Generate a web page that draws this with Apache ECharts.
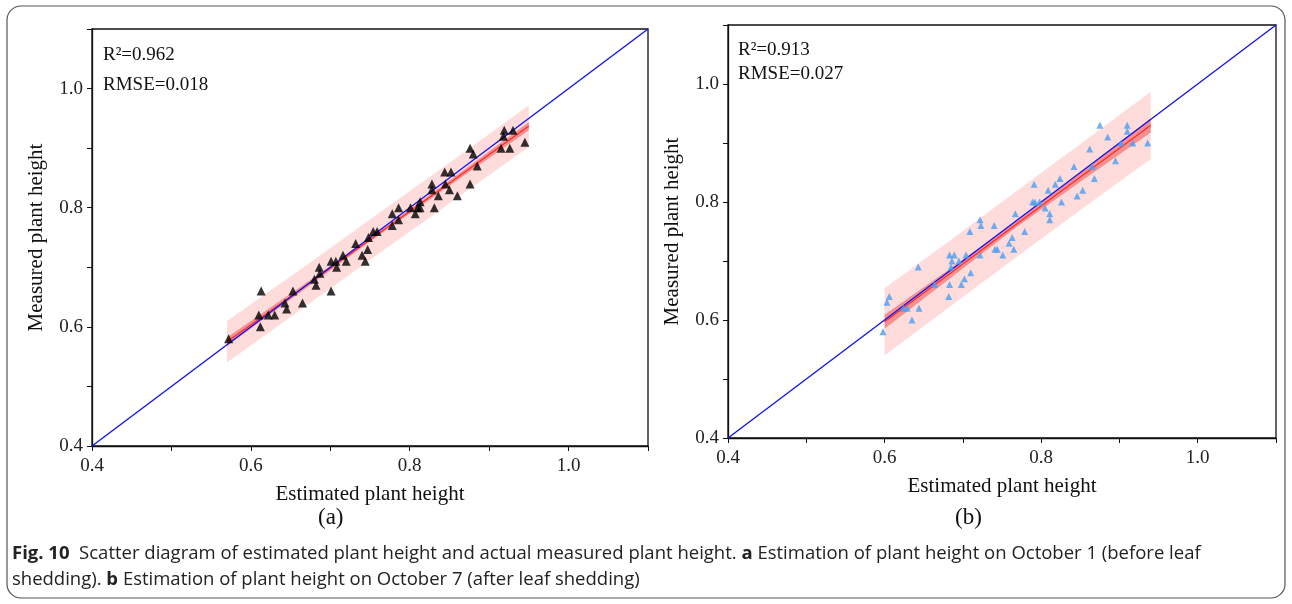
<!DOCTYPE html>
<html>
<head>
<meta charset="utf-8">
<title>Scatter diagram of estimated and measured plant height</title>
<script src="https://cdn.jsdelivr.net/npm/echarts@6/dist/echarts.min.js"></script>
<style>
  html, body { margin: 0; padding: 0; background: #fff; }
  #chart { width: 1292px; height: 604px; }
</style>
</head>
<body>
<div id="chart"></div>
<script>
// (a) October 1, before leaf shedding: [estimated, measured]
var pointsA = [
  [0.572, 0.58], [0.613, 0.66], [0.612, 0.60], [0.610, 0.62], [0.622, 0.62],
  [0.630, 0.62], [0.645, 0.63], [0.643, 0.64], [0.653, 0.66], [0.665, 0.64],
  [0.680, 0.68], [0.682, 0.67], [0.687, 0.69], [0.686, 0.70], [0.701, 0.66],
  [0.701, 0.71], [0.707, 0.71], [0.708, 0.70], [0.720, 0.71], [0.716, 0.72],
  [0.732, 0.74], [0.740, 0.72], [0.744, 0.71], [0.747, 0.73], [0.748, 0.75],
  [0.754, 0.76], [0.759, 0.76], [0.778, 0.79], [0.778, 0.77], [0.786, 0.80],
  [0.786, 0.78], [0.801, 0.80], [0.807, 0.79], [0.810, 0.80], [0.813, 0.80],
  [0.813, 0.81], [0.831, 0.80], [0.836, 0.82], [0.828, 0.83], [0.828, 0.84],
  [0.845, 0.84], [0.850, 0.83], [0.860, 0.82], [0.844, 0.86], [0.852, 0.86],
  [0.876, 0.84], [0.885, 0.87], [0.876, 0.90], [0.880, 0.89], [0.915, 0.90],
  [0.926, 0.90], [0.918, 0.92], [0.919, 0.93], [0.930, 0.93], [0.945, 0.91]
];
// (b) October 7, after leaf shedding
var pointsB = [
  [0.875, 0.93], [0.910, 0.93], [0.910, 0.92], [0.885, 0.91], [0.902, 0.90],
  [0.917, 0.90], [0.936, 0.90], [0.862, 0.89], [0.895, 0.87], [0.842, 0.86],
  [0.865, 0.86], [0.868, 0.84], [0.824, 0.84], [0.791, 0.83], [0.818, 0.83],
  [0.809, 0.82], [0.853, 0.82], [0.846, 0.81], [0.789, 0.80], [0.792, 0.80],
  [0.798, 0.80], [0.826, 0.80], [0.805, 0.79], [0.811, 0.78], [0.811, 0.77],
  [0.767, 0.78], [0.722, 0.77], [0.723, 0.76], [0.740, 0.76], [0.709, 0.75],
  [0.779, 0.75], [0.763, 0.74], [0.759, 0.73], [0.741, 0.72], [0.744, 0.72],
  [0.765, 0.72], [0.751, 0.71], [0.683, 0.71], [0.689, 0.71], [0.704, 0.71],
  [0.722, 0.71], [0.643, 0.69], [0.686, 0.70], [0.695, 0.70], [0.685, 0.69],
  [0.710, 0.68], [0.702, 0.67], [0.683, 0.66], [0.698, 0.66], [0.664, 0.66],
  [0.682, 0.64], [0.606, 0.64], [0.603, 0.63], [0.624, 0.62], [0.629, 0.62],
  [0.644, 0.62], [0.635, 0.60], [0.598, 0.58]
];

// fitted line and bands
var fitXA = [0.57, 0.665, 0.76, 0.855, 0.95];
var fitYA = [0.575, 0.665, 0.756, 0.846, 0.937];
var confA = [0.007, 0.0045, 0.003, 0.0045, 0.007];
var predA = [0.035, 0.034, 0.034, 0.034, 0.035];

var fitXB = [0.6, 0.685, 0.77, 0.855, 0.94];
var fitYB = [0.597, 0.680, 0.764, 0.847, 0.930];
var confB = [0.012, 0.008, 0.005, 0.008, 0.012];
var predB = [0.057, 0.056, 0.056, 0.056, 0.057];

var oneToOne = [0.4, 1.1];
var statsA = ['R²=0.962', 'RMSE=0.018'];
var statsB = ['R²=0.913', 'RMSE=0.027'];

var serif = '"Liberation Serif", "DejaVu Serif", serif';
var sans = '"Open Sans", "Noto Sans", sans-serif';

function tickLabel(v) {
  var k = Math.round(v * 10);
  if (k % 2 === 0 && k <= 10) return (k / 10).toFixed(1);
  return '';
}

function makeX(idx) {
  return {
    type: 'value', gridIndex: idx, min: 0.4, max: 1.1, interval: 0.1,
    name: 'Estimated plant height', nameLocation: 'middle', nameGap: 38,
    nameTextStyle: { fontFamily: serif, fontSize: 21, color: '#111' },
    axisLine: { show: true, lineStyle: { color: '#111', width: 1.3 } },
    axisTick: { show: true, inside: false, length: 5, lineStyle: { color: '#111' } },
    axisLabel: { fontFamily: serif, fontSize: 19, color: '#222', margin: 11, formatter: tickLabel },
    splitLine: { show: false }
  };
}

function makeY(idx) {
  return {
    type: 'value', gridIndex: idx, min: 0.4, max: 1.1, interval: 0.1,
    name: 'Measured plant height', nameLocation: 'middle', nameGap: 45,
    nameTextStyle: { fontFamily: serif, fontSize: 21, color: '#111' },
    axisLine: { show: true, lineStyle: { color: '#111', width: 1.3 } },
    axisTick: { show: true, inside: false, length: 5, lineStyle: { color: '#111' } },
    axisLabel: { fontFamily: serif, fontSize: 19, color: '#222', margin: 9, formatter: tickLabel },
    splitLine: { show: false }
  };
}

// polygon band drawn through the axis scale
function band(idx, xs, ys, half, color, z) {
  return {
    type: 'custom', xAxisIndex: idx, yAxisIndex: idx, z: z, silent: true,
    data: xs.map(function (x, i) { return [x, ys[i]]; }),
    encode: { x: 0, y: 1 },
    renderItem: function (params, api) {
      if (params.dataIndex !== 0) return null;
      var pts = [];
      for (var i = 0; i < xs.length; i++) pts.push(api.coord([xs[i], ys[i] + half[i]]));
      for (var j = xs.length - 1; j >= 0; j--) pts.push(api.coord([xs[j], ys[j] - half[j]]));
      return { type: 'polygon', shape: { points: pts }, style: { fill: color } };
    }
  };
}

function panelSeries(idx, pts, fx, fy, conf, pred, color, size) {
  return [
    band(idx, fx, fy, pred, '#ffdcdc', 1),
    band(idx, fx, fy, conf, '#f59090', 2),
    {
      type: 'line', xAxisIndex: idx, yAxisIndex: idx, z: 3, symbol: 'none',
      data: fx.map(function (x, i) { return [x, fy[i]]; }),
      lineStyle: { color: '#ff2a2a', width: 1.2 }
    },
    {
      type: 'line', xAxisIndex: idx, yAxisIndex: idx, z: 4, symbol: 'none',
      data: oneToOne.map(function (v) { return [v, v]; }),
      lineStyle: { color: '#1010f0', width: 1.3 }
    },
    {
      type: 'scatter', xAxisIndex: idx, yAxisIndex: idx, z: 5,
      symbol: 'triangle', symbolSize: size,
      itemStyle: { color: color },
      data: pts
    }
  ];
}

function statText(lines, left, top, gap) {
  return lines.map(function (t, i) {
    return {
      type: 'text', left: left, top: top + i * gap,
      style: { text: t, fontFamily: serif, fontSize: 19, fill: '#111' }
    };
  });
}

var chart = echarts.init(document.getElementById('chart'));

var option = {
  backgroundColor: '#fff',
  animation: false,
  grid: [
    { left: 92, right: 644, top: 29, bottom: 158, show: true, borderColor: '#111', borderWidth: 1.3 },
    { left: 728, right: 16, top: 25, bottom: 166, show: true, borderColor: '#111', borderWidth: 1.3 }
  ],
  xAxis: [makeX(0), makeX(1)],
  yAxis: [makeY(0), makeY(1)],
  series: panelSeries(0, pointsA, fitXA, fitYA, confA, predA, '#000', 9)
    .concat(panelSeries(1, pointsB, fitXB, fitYB, confB, predB, '#4a9ff0', 7)),
  graphic: [
    {
      type: 'rect', z: -1,
      shape: { x: 7, y: 6, width: 1278, height: 592, r: 14 },
      style: { fill: 'none', stroke: '#555', lineWidth: 1.2 }
    },
    { type: 'text', left: 318, top: 506, style: { text: '(a)', fontFamily: serif, fontSize: 23, fill: '#111' } },
    { type: 'text', left: 955, top: 506, style: { text: '(b)', fontFamily: serif, fontSize: 23, fill: '#111' } },
    {
      type: 'text', left: 12, top: 541,
      style: {
        text: '{b|Fig. 10}  Scatter diagram of estimated plant height and actual measured plant height. {b|a} Estimation of plant height on October 1 (before leaf\n' +
              'shedding). {b|b} Estimation of plant height on October 7 (after leaf shedding)',
        fontFamily: sans, fontSize: 18.5, lineHeight: 26, fill: '#222',
        rich: {
          b: { fontFamily: sans, fontSize: 18.5, fontWeight: 'bold', fill: '#222' }
        }
      }
    }
  ].concat(statText(statsA, 103, 46, 30)).concat(statText(statsB, 738, 41, 24))
};

chart.setOption(option);

window.addEventListener('resize', function () {
  chart.resize();
});
</script>
</body>
</html>
